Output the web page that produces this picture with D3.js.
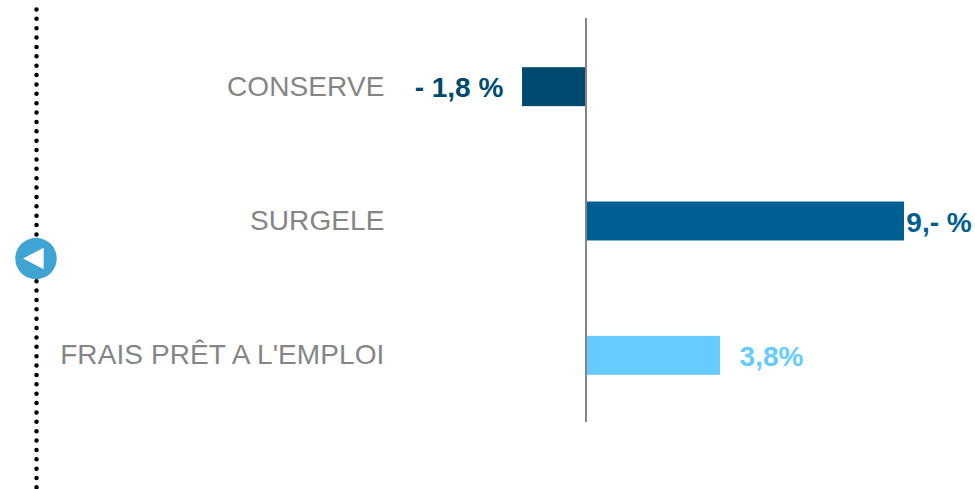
<!DOCTYPE html>
<html><head><meta charset="utf-8">
<script src="https://cdn.jsdelivr.net/npm/d3@7/dist/d3.min.js"></script>
<style>html,body{margin:0;padding:0;background:#fff}svg{display:block}text{font-family:"Liberation Sans",Arial,sans-serif}</style>
</head><body><svg id="c" width="975" height="489"></svg>
<script>
const categories = ["CONSERVE", "SURGELE", "FRAIS PRÊT A L'EMPLOI"];
const values = [-1.8, 9, 3.8];
const valueLabels = ["- 1,8 %", "9,- %", "3,8%"];
const barColors = ["#004A70", "#005F92", "#66CCFF"];

const svg = d3.select("#c");
const x = d3.scaleLinear().domain([0, 9]).range([585.7, 904]);
const y = d3.scaleBand().domain(categories).range([19.5, 422.5]).paddingInner(0.71).paddingOuter(0.355);

// dotted separator
svg.append("line").attr("x1", 36.5).attr("x2", 36.5).attr("y1", 9.5).attr("y2", 489)
  .attr("stroke", "#000").attr("stroke-width", 4.5).attr("stroke-linecap", "round")
  .attr("stroke-dasharray", "0 9.37");

// bars
svg.selectAll("rect.bar").data(categories).join("rect").attr("class", "bar")
  .attr("x", (d, i) => Math.min(x(0), x(values[i])))
  .attr("width", (d, i) => Math.abs(x(values[i]) - x(0)))
  .attr("y", d => y(d)).attr("height", y.bandwidth())
  .attr("fill", (d, i) => barColors[i]);

// axis line
svg.append("line").attr("x1", 586).attr("x2", 586).attr("y1", 18).attr("y2", 422)
  .attr("stroke", "#858585").attr("stroke-width", 2);

// category labels
svg.selectAll("text.cat").data(categories).join("text").attr("class", "cat")
  .attr("x", 384.5).attr("y", d => y(d) + y.bandwidth() / 2 + 9)
  .attr("text-anchor", "end").attr("font-size", 28).attr("letter-spacing", 0.1).attr("fill", "#858585")
  .text(d => d);

// value labels
const labelX = [459, 939, 771.5];
svg.selectAll("text.val").data(categories).join("text").attr("class", "val")
  .attr("x", (d, i) => labelX[i]).attr("y", d => y(d) + y.bandwidth() / 2 + 10.5)
  .attr("text-anchor", "middle").attr("font-size", 28).attr("font-weight", "bold")
  .attr("fill", (d, i) => barColors[i])
  .text((d, i) => valueLabels[i]);

// back button
const btn = svg.append("g").attr("transform", "translate(36,258.5)");
btn.append("circle").attr("r", 20.7).attr("fill", "#3FA3D4");
btn.append("path").attr("d", d3.line()([[-13, 0], [7.7, -10.7], [7.7, 10.7]]) + "Z").attr("fill", "#fff");
</script></body></html>
